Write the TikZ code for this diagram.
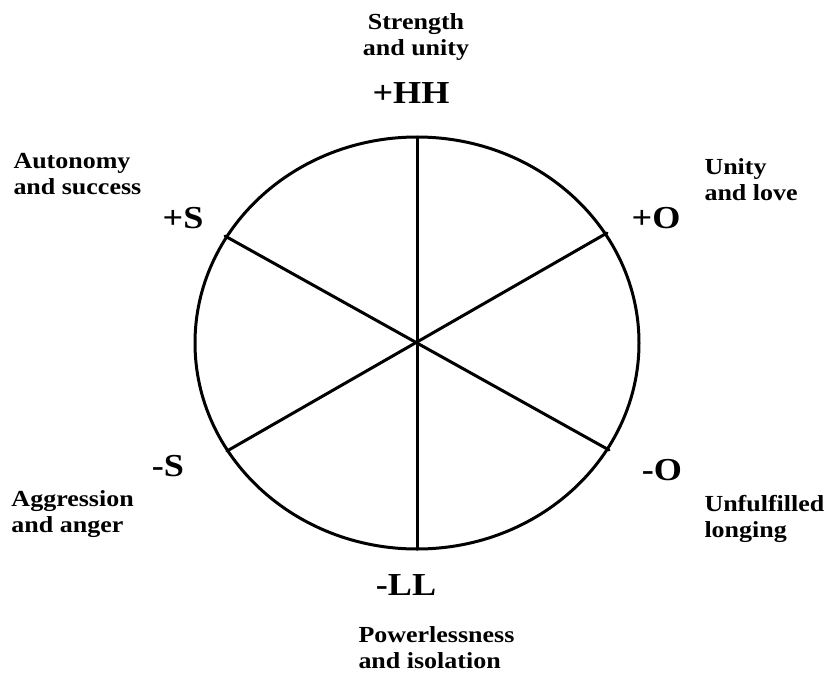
\documentclass[tikz,border=0pt]{standalone}
\usepackage{fontspec}
\setmainfont{Liberation Serif}[FakeStretch=1.13]

\tikzset{
  pole/.style={anchor=center,inner sep=0pt,font=\bfseries\fontsize{32}{36}\selectfont},
  gloss/.style={anchor=west,inner sep=0pt,align=left,font=\bfseries\fontsize{23}{26}\selectfont},
}

\begin{document}
\begin{tikzpicture}[x=1pt, y=-1pt, line width=3pt, line cap=round, line join=round]

  %% ==== wheel ====
  \coordinate (c) at (417,343);
  \draw (c) ellipse [x radius=222, y radius=206];

  %% spoke ends on the rim
  \coordinate (hhEnd) at (417,137);
  \coordinate (llEnd) at (417,549);
  \coordinate (pSEnd) at (225,236);
  \coordinate (mOEnd) at (609,450);
  \coordinate (pOEnd) at (607,233);
  \coordinate (mSEnd) at (227,451);

  %% ==== spokes ====
  \draw (hhEnd) -- (llEnd);
  \draw (pSEnd) -- (mOEnd);
  \draw (pOEnd) -- (mSEnd);

  %% ==== poles ====
  \node[pole] (hh) at (411,93) {+HH};
  \node[pole] (ll) at (406,585) {-LL};
  \node[pole] (pS) at (183,218) {+S};
  \node[pole] (mS) at (168,466) {-S};
  \node[pole] (pO) at (656,218) {+O};
  \node[pole] (mO) at (662,470) {-O};

  %% ==== glosses ====
  \node[gloss,anchor=center,align=center] (hhText) at (416,37) {Strength\\and unity};
  \node[gloss] (pSText) at (12,174) {Autonomy\\and success};
  \node[gloss] (pOText) at (703,180) {Unity\\and love};
  \node[gloss] (mSText) at (10,514) {Aggression\\and anger};
  \node[gloss] (mOText) at (703,519) {Unfulfilled\\longing};
  \node[gloss] (llText) at (357,648) {Powerlessness\\and isolation};

  % fix canvas to the reference size
  \pgfresetboundingbox
  \path[use as bounding box] (0,0) rectangle (828,675);
\end{tikzpicture}
\end{document}
